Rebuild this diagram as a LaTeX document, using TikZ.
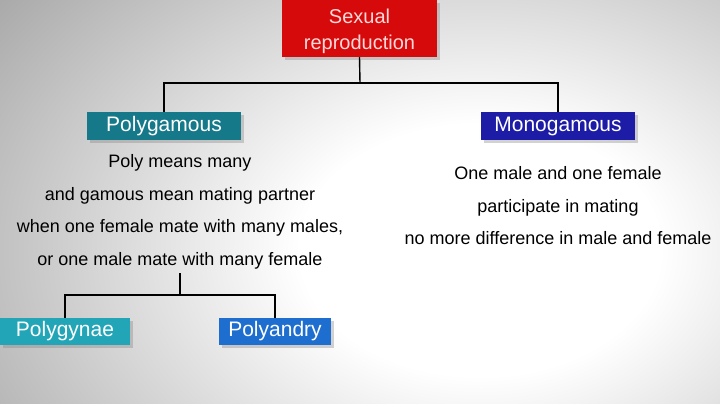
\documentclass[tikz,border=0pt]{standalone}
\usepackage{fontspec}
\setmainfont{Liberation Sans}
\usetikzlibrary{positioning, shadows}

\definecolor{sexred}{HTML}{D60A0A}
\definecolor{polyteal}{HTML}{15798A}
\definecolor{monoblue}{HTML}{1C1CA6}
\definecolor{gynteal}{HTML}{22A6B7}
\definecolor{andblue}{HTML}{1E6ECF}

\pgfdeclareradialshading{bgglow}{\pgfpoint{0bp}{0bp}}{color(0bp)=(white); color(9bp)=(white); color(34bp)=(black!40); color(50bp)=(black!46)}

\begin{document}
\begin{tikzpicture}[
    x=1pt, y=-1pt,
    box/.style   ={rectangle, draw=none, text=white, font=\fontsize{21}{26}\selectfont, align=center, inner sep=0pt, drop shadow={shadow xshift=3pt, shadow yshift=-3pt, opacity=0.35}},
    note/.style  ={align=center, font=\fontsize{18}{32.5}\selectfont, inner sep=0pt},
    link/.style  ={draw=black, line width=1.4pt},
]

%==================== BACKGROUND ====================

\begin{scope}
  \clip (0,0) rectangle (720,404);
  \shade[shading=bgglow] (-20,-100) rectangle (980,600);
\end{scope}
\useasboundingbox (0,0) rectangle (720,404);

%==================== BOXES ====================

\node[box, fill=sexred,   minimum width=155pt, minimum height=57pt, text=red!15, font=\fontsize{20}{26}\selectfont] (sexual) at (359.5,28.5)
  {\raisebox{-3pt}[\height][\depth]{\begin{tabular}{@{}c@{}}Sexual\\reproduction\end{tabular}}};

\node[box, fill=polyteal, minimum width=154pt, minimum height=28pt] (polygam) at (164,126) {Polygamous};
\node[box, fill=monoblue, minimum width=154pt, minimum height=28pt] (monogam) at (558,126) {Monogamous};

\node[note] (polytext) at (180,212) {Poly means many\\and gamous mean mating partner\\when one female mate with many males,\\or one male mate with many female};
\node[note] (monotext) at (558,206) {One male and one female\\participate in mating\\no more difference in male and female};

\node[box, fill=gynteal, minimum width=130pt, minimum height=27pt] (polygyn) at (65,331.5)  {Polygynae};
\node[box, fill=andblue, minimum width=112pt, minimum height=27pt] (polyand) at (275,331.5) {Polyandry};

%==================== CONNECTORS ====================

\coordinate (split1) at (360,83);
\coordinate (split2) at (180,295);
\coordinate (polytop) at (180,273);

\draw[link] (sexual.south) -- (split1);
\draw[link] (split1) -| (polygam.north);
\draw[link] (split1) -| (monogam.north);

\draw[link] (polytop) -- (split2);
\draw[link] (split2) -| (polygyn.north);
\draw[link] (split2) -| (polyand.north);

\end{tikzpicture}
\end{document}
